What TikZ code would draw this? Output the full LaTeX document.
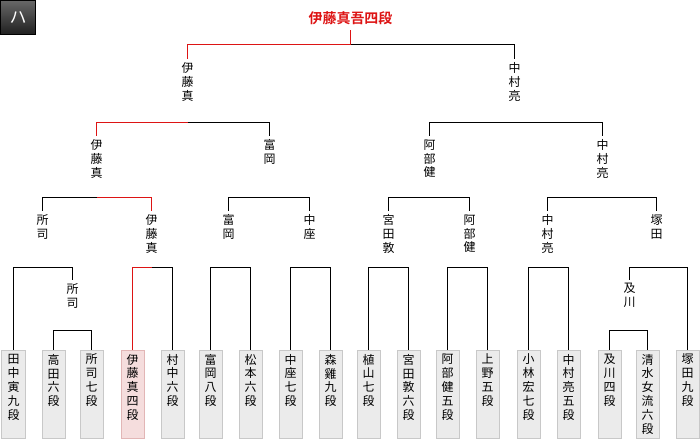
\documentclass[tikz,border=0pt]{standalone}
\usepackage{fontspec}
\setmainfont{Noto Sans CJK JP}[BoldFont={Noto Sans CJK JP Bold}]
\usepackage{tikz}

\definecolor{winred}{RGB}{221,20,20}
\definecolor{boxfill}{RGB}{235,235,235}
\definecolor{boxline}{RGB}{200,200,200}
\definecolor{winfill}{RGB}{245,221,221}
\definecolor{winline}{RGB}{226,182,182}

\newcommand{\pbox}[1]{\parbox[c][88bp][t]{23bp}{\centering\vspace{4bp}#1}}

\begin{document}
\begin{tikzpicture}[
        x=1bp, y=-1bp,
        line width=1bp,
        font=\fontsize{12}{14}\selectfont,
        player/.style={draw=boxline, fill=boxfill, anchor=north, inner sep=0pt},
        winner/.style={player, draw=winline, fill=winfill},
        result/.style={anchor=north, inner sep=0pt, outer sep=3.5bp, align=center},
        champ/.style={anchor=base, inner sep=0pt, outer sep=5bp, text=winred,
            font=\fontsize{14}{16}\selectfont\bfseries},
        badge/.style={draw=black, top color=black!60, bottom color=black!88,
            minimum size=34bp, inner sep=0pt, text=white,
            font=\fontsize{17}{17}\selectfont},
        won/.style={draw=winred}
        ]
            \useasboundingbox (0,0) rectangle (700,440);

            \node[badge] (BADGE) at (18,18) {ハ};

            % players
            \node[player] (P1) at (13.5,349.5) {\pbox{田\\中\\寅\\九\\段}};
            \node[player] (P2) at (53.5,349.5) {\pbox{高\\田\\六\\段}};
            \node[player] (P3) at (91.5,349.5) {\pbox{所\\司\\七\\段}};
            \node[winner] (P4) at (132.5,349.5) {\pbox{伊\\藤\\真\\四\\段}};
            \node[player] (P5) at (172.5,349.5) {\pbox{村\\中\\六\\段}};
            \node[player] (P6) at (210.5,349.5) {\pbox{富\\岡\\八\\段}};
            \node[player] (P7) at (250.5,349.5) {\pbox{松\\本\\六\\段}};
            \node[player] (P8) at (290.5,349.5) {\pbox{中\\座\\七\\段}};
            \node[player] (P9) at (330.5,349.5) {\pbox{森\\雞\\九\\段}};
            \node[player] (P10) at (368.5,349.5) {\pbox{植\\山\\七\\段}};
            \node[player] (P11) at (408.5,349.5) {\pbox{宮\\田\\敦\\六\\段}};
            \node[player] (P12) at (447.5,349.5) {\pbox{阿\\部\\健\\五\\段}};
            \node[player] (P13) at (487.5,349.5) {\pbox{上\\野\\五\\段}};
            \node[player] (P14) at (528.5,349.5) {\pbox{小\\林\\宏\\七\\段}};
            \node[player] (P15) at (568.5,349.5) {\pbox{中\\村\\亮\\五\\段}};
            \node[player] (P16) at (609.5,349.5) {\pbox{及\\川\\四\\段}};
            \node[player] (P17) at (647.5,349.5) {\pbox{清\\水\\女\\流\\六\\段}};
            \node[player] (P18) at (687.5,349.5) {\pbox{塚\\田\\九\\段}};

            % winners
            \node[result] (SHOJI1) at (72.5,280) {所\\司};
            \node[result] (OIKAWA) at (629.5,280) {及\\川};

            \node[result] (SHOJI2) at (42.5,211) {所\\司};
            \node[result] (ITO2) at (151.5,211) {伊\\藤\\真};
            \node[result] (TOMIOKA2) at (228.5,211) {富\\岡};
            \node[result] (NAKAZA2) at (309.5,211) {中\\座};
            \node[result] (MIYATA2) at (388.5,211) {宮\\田\\敦};
            \node[result] (ABE2) at (469.5,211) {阿\\部\\健};
            \node[result] (NAKAMURA2) at (547.5,211) {中\\村\\亮};
            \node[result] (TSUKADA2) at (656.5,211) {塚\\田};

            \node[result] (ITO3) at (96.5,136) {伊\\藤\\真};
            \node[result] (TOMIOKA3) at (269.5,136) {富\\岡};
            \node[result] (ABE3) at (429.5,136) {阿\\部\\健};
            \node[result] (NAKAMURA3) at (602.5,136) {中\\村\\亮};

            \node[result] (ITO4) at (187.5,59) {伊\\藤\\真};
            \node[result] (NAKAMURA4) at (514.5,59) {中\\村\\亮};

            \node[champ] (CHAMP) at (350.5,24) {伊藤真吾四段};

            % bouts
            \draw (P2.north) |- (P3.north |- 0,330.5) -- (P3.north);
            \draw (P16.north) |- (P17.north |- 0,330.5) -- (P17.north);

            \draw (P1.north) |- (SHOJI1.north |- 0,267.5) -- (SHOJI1.north);
            \draw (P4.north) |- (P5.north |- 0,267.5) -- (P5.north);
            \draw (P6.north) |- (P7.north |- 0,267.5) -- (P7.north);
            \draw (P8.north) |- (P9.north |- 0,267.5) -- (P9.north);
            \draw (P10.north) |- (P11.north |- 0,267.5) -- (P11.north);
            \draw (P12.north) |- (P13.north |- 0,267.5) -- (P13.north);
            \draw (P14.north) |- (P15.north |- 0,267.5) -- (P15.north);
            \draw (OIKAWA.north) |- (P18.north |- 0,267.5) -- (P18.north);

            \draw (SHOJI2.north) |- (ITO2.north |- 0,197.5) -- (ITO2.north);
            \draw (TOMIOKA2.north) |- (NAKAZA2.north |- 0,197.5) -- (NAKAZA2.north);
            \draw (MIYATA2.north) |- (ABE2.north |- 0,197.5) -- (ABE2.north);
            \draw (NAKAMURA2.north) |- (TSUKADA2.north |- 0,197.5) -- (TSUKADA2.north);

            \draw (ITO3.north) |- (TOMIOKA3.north |- 0,122.5) -- (TOMIOKA3.north);
            \draw (ABE3.north) |- (NAKAMURA3.north |- 0,122.5) -- (NAKAMURA3.north);

            \draw (ITO4.north) |- (NAKAMURA4.north |- 0,44.5) -- (NAKAMURA4.north);

            % path of the winner
            \draw[won] (P4.north) |- (ITO2.north |- 0,267.5);
            \draw[won] (ITO2.north) |- (ITO3.north |- 0,197.5);
            \draw[won] (ITO3.north) |- (ITO4.north |- 0,122.5);
            \draw[won] (ITO4.north) |- (CHAMP.south |- 0,44.5) -- (CHAMP.south);
        \end{tikzpicture}
\end{document}
